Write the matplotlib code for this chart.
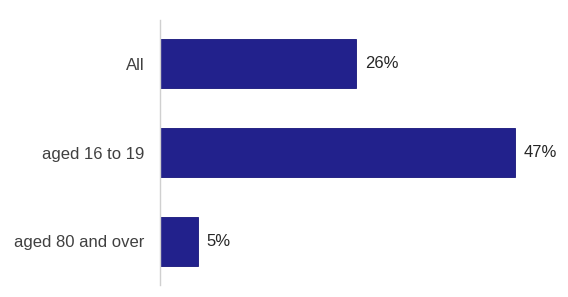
import matplotlib
matplotlib.use("Agg")
import matplotlib.pyplot as plt

categories = ["All", "aged 16 to 19", "aged 80 and over"]
values = [26, 47, 5]
value_labels = ["26%", "47%", "5%"]

BAR_COLOR = "#22218c"
EDGE_COLOR = "#15157a"

plt.rcParams["font.family"] = ["Liberation Sans", "DejaVu Sans"]

fig = plt.figure(figsize=(5.68, 2.97), dpi=100)
ax = fig.add_axes([160 / 568, 12 / 297, 400 / 568, 265 / 297])

pos = list(range(len(categories)))
ax.barh(pos, values, height=0.56, color=BAR_COLOR, edgecolor=EDGE_COLOR, linewidth=0.6)

for p, v, lab in zip(pos, values, value_labels):
    ax.text(v + 1.2, p, lab, va="center", ha="left", fontsize=12, color="#262626")

ax.set_yticks(pos)
ax.set_yticklabels(categories, fontsize=12, color="#404040")
ax.tick_params(axis="y", length=0, pad=11)
ax.set_ylim(2.49, -0.49)
ax.set_xlim(0, 53)
ax.set_xticks([])

for side in ("top", "right", "bottom"):
    ax.spines[side].set_visible(False)
ax.spines["left"].set_color("#d0d0d0")
ax.spines["left"].set_linewidth(1.0)

fig.savefig("out.png", dpi=100)
